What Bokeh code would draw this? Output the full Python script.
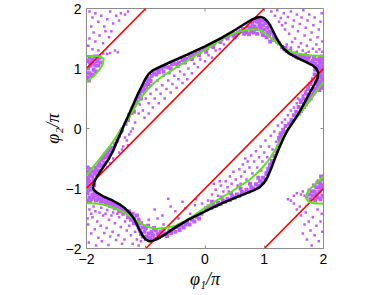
from bokeh.plotting import figure
from bokeh.models import FixedTicker, Range1d, Spacer
from bokeh.layouts import row
from bokeh.embed import file_html
from bokeh.resources import INLINE

# ---------------- data ----------------
tick_values = [-2, -1, 0, 1, 2]
tick_labels = ["\u22122", "\u22121", "0", "1", "2"]
red_offsets = [3, 1, -1, -3]          # red lines: phi2 = phi1 + c

black_curve = [
    (-1.89, -0.97), (-1.86, -0.87), (-1.79, -0.75), (-1.70, -0.62), (-1.62, -0.50), (-1.55, -0.37),
    (-1.48, -0.20), (-1.42, -0.07), (-1.37, 0.05), (-1.30, 0.20), (-1.22, 0.38), (-1.14, 0.56),
    (-1.07, 0.70), (-1.01, 0.82), (-0.95, 0.91), (-0.88, 0.97), (-0.78, 1.02), (-0.60, 1.10),
    (-0.30, 1.23), (0.00, 1.37), (0.28, 1.51), (0.52, 1.65), (0.68, 1.75), (0.80, 1.82),
    (0.88, 1.85), (0.94, 1.86), (1.00, 1.84), (1.05, 1.79), (1.10, 1.72), (1.15, 1.62),
    (1.20, 1.52), (1.26, 1.42), (1.33, 1.33), (1.42, 1.25), (1.55, 1.18), (1.70, 1.11),
    (1.82, 1.05), (1.88, 1.00), (1.91, 0.93), (1.90, 0.84), (1.85, 0.74), (1.77, 0.60),
    (1.68, 0.43), (1.58, 0.25), (1.48, 0.10), (1.40, -0.02), (1.33, -0.15), (1.25, -0.33),
    (1.18, -0.50), (1.12, -0.66), (1.06, -0.80), (1.00, -0.90), (0.92, -0.98), (0.82, -1.03),
    (0.62, -1.11), (0.30, -1.24), (0.00, -1.38), (-0.28, -1.52), (-0.52, -1.66), (-0.68, -1.77),
    (-0.80, -1.84), (-0.88, -1.87), (-0.94, -1.88), (-1.00, -1.85), (-1.05, -1.79), (-1.10, -1.70),
    (-1.15, -1.60), (-1.20, -1.50), (-1.27, -1.41), (-1.35, -1.33), (-1.45, -1.26), (-1.58, -1.19),
    (-1.72, -1.13), (-1.82, -1.07), (-1.88, -1.02), (-1.89, -0.97),
]

green_upper = [
    (-2.00, -0.78), (-1.87, -0.62), (-1.74, -0.46), (-1.61, -0.30), (-1.50, -0.14), (-1.40, 0.01),
    (-1.29, 0.17), (-1.18, 0.36), (-1.07, 0.53), (-0.97, 0.65), (-0.87, 0.75), (-0.75, 0.85),
    (-0.62, 0.93), (-0.45, 1.04), (-0.25, 1.16), (0.00, 1.31), (0.17, 1.42), (0.33, 1.52),
    (0.50, 1.59), (0.68, 1.64), (0.82, 1.655), (0.92, 1.64), (1.03, 1.58), (1.12, 1.50),
    (1.22, 1.42), (1.33, 1.34), (1.45, 1.28), (1.60, 1.24), (1.75, 1.22), (2.00, 1.21),
]
green_lower = [
    (2.00, 0.78), (1.88, 0.62), (1.76, 0.46), (1.64, 0.30), (1.52, 0.14), (1.41, 0.00),
    (1.30, -0.16), (1.19, -0.35), (1.08, -0.52), (0.97, -0.65), (0.87, -0.75), (0.75, -0.86),
    (0.62, -0.94), (0.45, -1.05), (0.25, -1.17), (0.00, -1.32), (-0.17, -1.44), (-0.33, -1.54),
    (-0.50, -1.62), (-0.68, -1.66), (-0.82, -1.67), (-0.93, -1.65), (-1.05, -1.60), (-1.17, -1.53),
    (-1.30, -1.44), (-1.45, -1.36), (-1.60, -1.30), (-1.75, -1.26), (-2.00, -1.24),
]
green_top_left = [
    (-2.00, 1.21), (-1.85, 1.21), (-1.76, 1.20), (-1.71, 1.16), (-1.72, 1.08), (-1.78, 0.98),
    (-1.88, 0.87), (-2.00, 0.78),
]
green_bottom_right = [
    (2.00, -0.80), (1.89, -0.90), (1.79, -0.99), (1.72, -1.08), (1.70, -1.16), (1.75, -1.22),
    (1.85, -1.25), (2.00, -1.25),
]

# purple sample points, dense bands near the curve
dots_dense = [
    # lower-left corner wedge
    (-1.98, -0.82), (-1.95, -0.88), (-1.97, -0.95), (-1.93, -1.02), (-1.98, -1.08), (-1.95, -1.15),
    (-1.99, -1.20), (-1.92, -1.18), (-1.90, -1.10), (-1.94, -0.78), (-1.90, -0.80), (-1.88, -0.86),
    (-1.91, -0.93), (-1.86, -0.75), (-1.83, -0.70), (-1.85, -0.66), (-1.80, -0.62), (-1.78, -0.58),
    (-1.75, -0.52), (-1.72, -0.50), (-1.70, -0.46), (-1.68, -0.42), (-1.65, -0.40), (-1.62, -0.36),
    (-1.60, -0.33), (-1.82, -0.78), (-1.79, -0.70), (-1.74, -0.62), (-1.70, -0.57), (-1.96, -1.02),
    (-1.99, -0.90), (-1.94, -1.22), (-1.97, -0.84), (-1.92, -0.96), (-1.89, -0.72), (-1.96, -0.72),
    (-1.93, -0.68), (-1.98, -0.65), (-1.87, -0.94), (-1.99, -1.00),
    # under lower-left edge
    (-1.86, -1.08), (-1.82, -1.12), (-1.78, -1.15), (-1.74, -1.18), (-1.70, -1.16), (-1.66, -1.20),
    (-1.62, -1.22), (-1.58, -1.24), (-1.55, -1.27), (-1.50, -1.26), (-1.47, -1.30), (-1.43, -1.32),
    (-1.40, -1.35), (-1.37, -1.34), (-1.33, -1.38), (-1.30, -1.41), (-1.27, -1.45), (-1.24, -1.47),
    (-1.20, -1.50), (-1.17, -1.56), (-1.14, -1.60), (-1.12, -1.65), (-1.88, -1.15), (-1.84, -1.20),
    (-1.76, -1.22), (-1.68, -1.25), (-1.60, -1.29), (-1.52, -1.33), (-1.45, -1.38), (-1.38, -1.42),
    (-1.30, -1.48), (-1.25, -1.52), (-1.20, -1.58), (-1.10, -1.70), (-1.08, -1.76), (-1.05, -1.80),
    (-1.00, -1.84), (-1.80, -1.18), (-1.72, -1.21), (-1.64, -1.24), (-1.56, -1.30),
    # bottom band
    (-0.98, -1.80), (-0.95, -1.75), (-0.92, -1.82), (-0.90, -1.72), (-0.88, -1.78), (-0.85, -1.84),
    (-0.83, -1.70), (-0.80, -1.76), (-0.78, -1.81), (-0.75, -1.72), (-0.72, -1.78), (-0.70, -1.68),
    (-0.67, -1.75), (-0.64, -1.79), (-0.60, -1.70), (-0.57, -1.74), (-0.53, -1.67), (-0.50, -1.72),
    (-0.46, -1.64), (-0.43, -1.69), (-0.40, -1.62), (-0.36, -1.65), (-0.33, -1.60), (-0.30, -1.57),
    (-0.26, -1.60), (-0.22, -1.52), (-0.18, -1.55), (-0.14, -1.47), (-0.10, -1.50), (-0.06, -1.42),
    (-1.02, -1.72), (-1.00, -1.66), (-0.96, -1.62), (-1.05, -1.65), (-1.08, -1.58), (-1.12, -1.52),
    (-1.15, -1.45), (-1.22, -1.42), (-1.28, -1.38), (-0.94, -1.86), (-0.86, -1.66),
    # lower-right band
    (0.02, -1.33), (0.06, -1.30), (0.10, -1.32), (0.14, -1.27), (0.18, -1.29), (0.22, -1.24),
    (0.26, -1.26), (0.30, -1.20), (0.34, -1.22), (0.38, -1.17), (0.42, -1.19), (0.46, -1.13),
    (0.50, -1.15), (0.54, -1.10), (0.58, -1.12), (0.62, -1.06), (0.66, -1.08), (0.70, -1.02),
    (0.74, -1.05), (0.78, -0.98), (0.82, -1.00), (0.86, -0.93), (0.90, -0.96), (0.93, -0.88),
    (0.96, -0.90), (0.98, -0.82), (1.02, -0.85), (1.04, -0.76), (1.07, -0.70), (1.10, -0.62),
    (0.12, -1.22), (0.28, -1.15), (0.44, -1.08), (0.60, -1.00), (0.76, -0.92), (0.90, -0.82),
    # right side band
    (1.34, -0.06), (1.30, -0.14), (1.26, -0.22), (1.23, -0.30), (1.20, -0.38), (1.17, -0.46),
    (1.13, -0.54), (1.10, -0.60), (1.07, -0.67), (1.04, -0.74), (1.36, 0.04), (1.32, -0.02),
    (1.28, -0.08), (1.25, -0.16),
    (1.85, 0.90), (1.82, 0.82), (1.78, 0.74), (1.74, 0.66), (1.70, 0.58), (1.66, 0.50),
    (1.62, 0.44), (1.58, 0.36), (1.54, 0.28), (1.50, 0.22), (1.46, 0.14), (1.42, 0.08),
    # upper-right corner wedge
    (1.98, 0.80), (1.96, 0.86), (1.97, 0.93), (1.94, 0.98), (1.98, 1.04), (1.95, 1.10),
    (1.99, 1.16), (1.93, 1.12), (1.91, 1.05), (1.96, 0.75), (1.92, 0.78), (1.90, 0.72),
    (1.93, 0.70), (1.87, 0.66), (1.85, 0.62), (1.83, 0.58), (1.80, 0.55), (1.78, 0.50),
    (1.75, 0.47), (1.72, 0.44), (1.70, 0.40), (1.67, 0.36), (1.64, 0.33), (1.62, 0.29),
    (1.59, 0.25), (1.90, 0.82), (1.88, 0.76), (1.82, 0.65), (1.76, 0.56), (1.99, 0.97),
    (1.95, 1.02), (1.97, 0.68), (1.94, 0.90), (1.99, 1.08), (1.93, 0.64), (1.97, 1.20),
    (1.94, 1.17), (1.98, 0.72),
    # upper-right edge band
    (1.30, 1.36), (1.34, 1.32), (1.38, 1.29), (1.42, 1.27), (1.46, 1.24), (1.50, 1.22),
    (1.54, 1.20), (1.58, 1.18), (1.62, 1.20), (1.66, 1.16), (1.70, 1.14), (1.74, 1.17),
    (1.78, 1.10), (1.82, 1.13), (1.86, 1.08), (1.88, 1.15), (1.84, 1.18), (1.76, 1.20),
    (1.68, 1.19), (1.60, 1.22), (1.52, 1.25), (1.44, 1.30), (1.36, 1.34), (1.90, 1.02),
    (1.86, 0.98), (1.80, 1.08), (1.72, 1.13), (1.64, 1.17), (1.56, 1.19),
    # top peak
    (0.60, 1.62), (0.64, 1.66), (0.68, 1.63), (0.72, 1.70), (0.76, 1.68), (0.80, 1.74),
    (0.84, 1.70), (0.88, 1.78), (0.92, 1.75), (0.95, 1.80), (0.98, 1.72), (1.02, 1.76),
    (1.05, 1.68), (1.08, 1.70), (1.10, 1.62), (1.13, 1.60), (1.16, 1.54), (1.19, 1.50),
    (1.22, 1.45), (1.25, 1.42), (0.86, 1.66), (0.94, 1.68), (1.00, 1.65), (0.78, 1.62),
    (0.70, 1.60), (0.90, 1.82), (0.84, 1.80), (0.96, 1.62), (1.06, 1.60), (1.14, 1.48),
    (0.66, 1.58), (0.74, 1.57), (0.82, 1.60), (0.88, 1.58), (0.98, 1.56), (1.04, 1.52),
    (1.10, 1.45), (0.56, 1.60), (0.52, 1.56), (0.48, 1.55), (0.92, 1.70), (1.00, 1.80),
    (0.80, 1.67), (1.08, 1.55),
    # upper band
    (-0.80, 0.98), (-0.74, 1.00), (-0.68, 1.03), (-0.62, 1.02), (-0.56, 1.07), (-0.50, 1.08),
    (-0.44, 1.10), (-0.38, 1.14), (-0.32, 1.16), (-0.26, 1.20), (-0.20, 1.22), (-0.14, 1.25),
    (-0.08, 1.28), (-0.02, 1.32), (0.04, 1.34), (0.10, 1.38), (0.16, 1.42), (0.22, 1.46),
    (0.28, 1.49), (0.34, 1.52), (0.40, 1.55), (0.46, 1.58), (-0.70, 0.95), (-0.58, 1.00),
    (-0.46, 1.04), (-0.34, 1.10), (-0.22, 1.16), (-0.10, 1.22), (0.02, 1.28), (0.14, 1.36),
    (0.26, 1.44), (0.38, 1.50), (0.50, 1.52),
    # upper-left band
    (-1.34, 0.08), (-1.30, 0.14), (-1.28, 0.22), (-1.24, 0.26), (-1.22, 0.34), (-1.18, 0.40),
    (-1.16, 0.47), (-1.12, 0.52), (-1.10, 0.58), (-1.06, 0.62), (-1.04, 0.70), (-1.00, 0.73),
    (-0.98, 0.80), (-0.94, 0.83), (-0.90, 0.88), (-0.86, 0.92), (-0.82, 0.90), (-0.78, 0.94),
    (-1.20, 0.28), (-1.14, 0.44), (-1.08, 0.50), (-1.02, 0.64), (-0.96, 0.74), (-0.92, 0.79),
    # left band
    (-1.42, -0.05), (-1.45, -0.12), (-1.48, -0.20), (-1.52, -0.26), (-1.55, -0.32), (-1.58, -0.38),
    (-1.62, -0.44), (-1.66, -0.48), (-1.40, -0.02),
    # top-left cluster
    (-1.98, 0.85), (-1.95, 0.92), (-1.92, 0.88), (-1.97, 1.00), (-1.93, 1.05), (-1.88, 0.98),
    (-1.85, 1.05), (-1.98, 1.12), (-1.90, 1.15), (-1.82, 1.12), (-1.78, 1.18), (-1.86, 1.20),
    (-1.95, 1.18), (-1.80, 1.05), (-1.76, 1.10), (-1.84, 0.95), (-1.90, 0.90), (-1.96, 0.80),
    (-1.99, 0.92), (-1.94, 1.10), (-1.88, 1.08), (-1.80, 1.20),
    # bottom-right cluster
    (1.98, -0.85), (1.95, -0.92), (1.92, -0.88), (1.97, -1.00), (1.93, -1.05), (1.88, -0.98),
    (1.85, -1.05), (1.98, -1.12), (1.90, -1.15), (1.82, -1.12), (1.78, -1.18), (1.86, -1.20),
    (1.95, -1.18), (1.80, -1.05), (1.76, -1.10), (1.84, -0.95), (1.90, -0.90), (1.96, -0.80),
    (1.99, -0.95), (1.94, -0.98), (1.88, -1.10),
]

# purple sample points, scattered
dots_sparse = [
    # inside, lower-right
    (0.05, -1.20), (0.12, -1.10), (0.18, -1.02), (0.22, -1.12), (0.27, -0.95), (0.31, -1.05),
    (0.35, -0.88), (0.38, -0.98), (0.42, -0.80), (0.45, -0.92), (0.48, -0.72), (0.52, -0.85),
    (0.55, -0.95), (0.58, -0.68), (0.61, -0.80), (0.64, -0.60), (0.67, -0.72), (0.70, -0.85),
    (0.72, -0.55), (0.75, -0.65), (0.78, -0.45), (0.80, -0.75), (0.83, -0.55), (0.86, -0.38),
    (0.88, -0.65), (0.91, -0.48), (0.94, -0.30), (0.97, -0.55), (1.00, -0.40), (1.02, -0.20),
    (1.05, -0.48), (1.08, -0.30), (1.11, -0.12), (1.14, -0.35), (1.17, -0.05), (1.20, -0.22),
    (1.23, 0.05), (1.26, -0.10), (0.40, -1.05), (0.60, -0.92), (0.25, -0.88), (0.15, -0.92),
    (0.68, -0.50), (0.95, -0.70), (1.12, -0.55),
    (-0.72, -1.45), (-0.50, -1.38), (-0.33, -1.33), (-0.17, -1.28), (-0.62, -1.17), (-0.80, -1.50),
    (-0.45, -1.50), (-0.25, -1.42), (-0.05, -1.25), (-0.85, -1.35), (-0.58, -1.30), (-0.38, -1.22),
    (-0.95, -1.52), (-0.70, -1.60), (-0.15, -1.18),
    # inside, right
    (1.65, 0.55), (1.70, 0.62), (1.60, 0.48), (1.55, 0.42), (1.50, 0.35), (1.45, 0.30),
    (1.40, 0.22), (1.75, 0.70), (1.80, 0.78), (1.35, 0.15), (1.30, 0.10), (1.57, 0.50),
    # inside, upper
    (-1.00, 0.50), (-0.95, 0.42), (-0.92, 0.58), (-0.88, 0.35), (-0.85, 0.50), (-0.82, 0.65),
    (-0.78, 0.42), (-0.75, 0.58), (-0.72, 0.72), (-0.68, 0.50), (-0.65, 0.66), (-0.62, 0.80),
    (-0.58, 0.60), (-0.55, 0.74), (-0.52, 0.88), (-0.48, 0.68), (-0.45, 0.82), (-0.42, 0.95),
    (-0.38, 0.76), (-0.35, 0.90), (-0.30, 0.82), (-0.28, 1.00), (-0.22, 0.92), (-0.18, 1.08),
    (-0.12, 1.02), (-0.08, 1.15), (0.00, 1.12), (0.06, 1.22), (0.12, 1.18), (0.18, 1.30),
    (0.25, 1.32), (0.32, 1.40), (-1.05, 0.30), (-1.10, 0.40), (-1.12, 0.25), (-1.02, 0.18),
    (-0.95, 0.25), (-0.98, 0.68), (-0.92, 0.72), (-0.80, 0.80), (-0.70, 0.88), (-0.60, 0.92),
    # inside, left
    (-1.35, -0.15), (-1.30, -0.28), (-1.40, -0.35), (-1.25, -0.05), (-1.45, -0.40), (-1.55, -0.50),
    (-1.60, -0.58), (-1.65, -0.64), (-1.38, -0.30), (-1.32, -0.20), (-1.28, -0.10), (-1.22, 0.00),
    (-1.18, 0.10),
    # outside, bottom-left
    (-1.95, -1.35), (-1.90, -1.48), (-1.97, -1.60), (-1.92, -1.75), (-1.96, -1.90), (-1.85, -1.38),
    (-1.82, -1.55), (-1.86, -1.68), (-1.80, -1.82), (-1.84, -1.95), (-1.75, -1.32), (-1.72, -1.45),
    (-1.76, -1.62), (-1.70, -1.74), (-1.74, -1.88), (-1.65, -1.36), (-1.62, -1.52), (-1.66, -1.66),
    (-1.60, -1.80), (-1.63, -1.94), (-1.55, -1.40), (-1.52, -1.58), (-1.56, -1.72), (-1.50, -1.86),
    (-1.45, -1.48), (-1.42, -1.64), (-1.46, -1.78), (-1.40, -1.92), (-1.35, -1.55), (-1.32, -1.70),
    (-1.36, -1.85), (-1.28, -1.62), (-1.25, -1.78), (-1.22, -1.92), (-1.18, -1.72), (-1.15, -1.85),
    (-1.12, -1.95), (-1.08, -1.88), (-1.88, -1.30), (-1.78, -1.40), (-1.68, -1.42), (-1.58, -1.45),
    (-1.48, -1.42), (-1.92, -1.42), (-1.98, -1.50),
    # outside, top-right
    (1.12, 1.95), (1.18, 1.88), (1.22, 1.97), (1.28, 1.84), (1.33, 1.92), (1.36, 1.76),
    (1.40, 1.86), (1.45, 1.95), (1.48, 1.70), (1.50, 1.80), (1.55, 1.90), (1.57, 1.62),
    (1.60, 1.74), (1.63, 1.85), (1.66, 1.97), (1.68, 1.55), (1.70, 1.68), (1.73, 1.80),
    (1.76, 1.90), (1.78, 1.48), (1.80, 1.60), (1.83, 1.72), (1.85, 1.85), (1.88, 1.40),
    (1.90, 1.52), (1.92, 1.65), (1.95, 1.78), (1.97, 1.92), (1.98, 1.45), (1.52, 1.50),
    (1.42, 1.58), (1.62, 1.42), (1.72, 1.38), (1.35, 1.65), (1.30, 1.72), (1.25, 1.78),
    (1.47, 1.44), (1.58, 1.36), (1.82, 1.33), (1.93, 1.32), (1.65, 1.30), (1.55, 1.28),
    (1.45, 1.35), (1.38, 1.40), (1.75, 1.28), (1.88, 1.28), (1.98, 1.28), (1.70, 1.25),
    # top-left corner
    (-1.95, 1.95), (-1.90, 1.85), (-1.85, 1.92), (-1.80, 1.78), (-1.92, 1.70), (-1.75, 1.88),
    (-1.70, 1.70), (-1.88, 1.60), (-1.65, 1.82), (-1.60, 1.95), (-1.78, 1.55), (-1.55, 1.75),
    (-1.50, 1.88), (-1.68, 1.62), (-1.45, 1.80), (-1.42, 1.92), (-1.95, 1.50), (-1.85, 1.45),
    (-1.72, 1.42), (-1.62, 1.52), (-1.58, 1.62), (-1.97, 1.38), (-1.90, 1.32), (-1.80, 1.30),
    (-1.35, 1.90), (-1.30, 1.95), (-1.52, 1.30), (-1.47, 1.27), (-1.72, 1.25), (-1.65, 1.24),
    (-1.60, 1.26),
    # bottom-right corner
    (1.55, -1.35), (1.62, -1.45), (1.70, -1.40), (1.75, -1.55), (1.82, -1.48), (1.88, -1.62),
    (1.95, -1.55), (1.78, -1.70), (1.85, -1.78), (1.92, -1.88), (1.98, -1.72), (1.68, -1.60),
    (1.60, -1.30), (1.90, -1.35), (1.97, -1.42), (1.72, -1.85), (1.80, -1.95), (1.65, -1.75),
    (1.50, -1.25), (1.45, -1.20), (1.40, -1.18), (1.72, -1.15), (1.68, -1.12), (1.62, -1.10),
    (1.55, -1.08), (1.50, -1.12), (1.65, -1.05), (1.75, -1.02),
]

# ---------------- figure ----------------
GREY = "#8c8c8c"
PURPLE = "#bf5cff"
TICK_LEN = 0.05   # inward tick length on top/right frame edges (data units, ~3 px)

p = figure(width=324, height=291, x_range=Range1d(-2, 2), y_range=Range1d(-2, 2),
           output_backend="svg", toolbar_location=None,
           min_border_left=44, min_border_right=40, min_border_top=8, min_border_bottom=43)
p.grid.visible = False
p.outline_line_color = GREY
p.outline_line_width = 1
p.background_fill_color = "white"
p.border_fill_color = "white"

ticker = FixedTicker(ticks=tick_values)
overrides = {v: s for v, s in zip(tick_values, tick_labels)}
for ax in (p.xaxis[0], p.yaxis[0]):
    ax.ticker = ticker
    ax.major_label_overrides = overrides
    ax.minor_tick_line_color = None
    ax.major_tick_in = 3
    ax.major_tick_out = 0
    ax.major_tick_line_color = GREY
    ax.axis_line_color = None
    ax.major_label_text_font = "Liberation Sans"
    ax.major_label_text_font_size = "14px"
    ax.major_label_text_color = "black"
    ax.major_label_standoff = 5
    ax.axis_label_text_font = "Liberation Serif"
    ax.axis_label_text_font_style = "italic"
    ax.axis_label_text_font_size = "18px"
    ax.axis_label_text_color = "black"

p.xaxis.axis_label = "\u03c6\u2081/\u03c0"
p.yaxis.axis_label = "\u03c6\u2082/\u03c0"
p.xaxis.axis_label_standoff = 2
p.yaxis.axis_label_standoff = 0

# inward ticks on the top and right edges of the box
p.segment(x0=tick_values, y0=[2] * len(tick_values), x1=tick_values,
          y1=[2 - TICK_LEN] * len(tick_values), line_color=GREY, line_width=1)
p.segment(x0=[2] * len(tick_values), y0=tick_values, x1=[2 - TICK_LEN] * len(tick_values),
          y1=tick_values, line_color=GREY, line_width=1)

# purple samples
p.scatter([q[0] for q in dots_sparse], [q[1] for q in dots_sparse], marker="square",
          size=2.5, fill_color=PURPLE, line_color=None)
p.scatter([q[0] for q in dots_dense], [q[1] for q in dots_dense], marker="square",
          size=4, fill_color=PURPLE, line_color=None)

# red lines phi2 = phi1 + c clipped to the box
for c in red_offsets:
    x0 = max(-2, -2 - c)
    x1 = min(2, 2 - c)
    p.line([x0, x1], [x0 + c, x1 + c], line_color="#ff0000", line_width=1.6)

for seg in (green_upper, green_lower, green_top_left, green_bottom_right):
    p.line([q[0] for q in seg], [q[1] for q in seg], line_color="#5fe01a", line_width=2)

p.line([q[0] for q in black_curve], [q[1] for q in black_curve], line_color="black",
       line_width=2.5, line_join="round")

layout = row(Spacer(width=39, height=291), p)
open("out.html", "w").write(file_html(layout, INLINE))
